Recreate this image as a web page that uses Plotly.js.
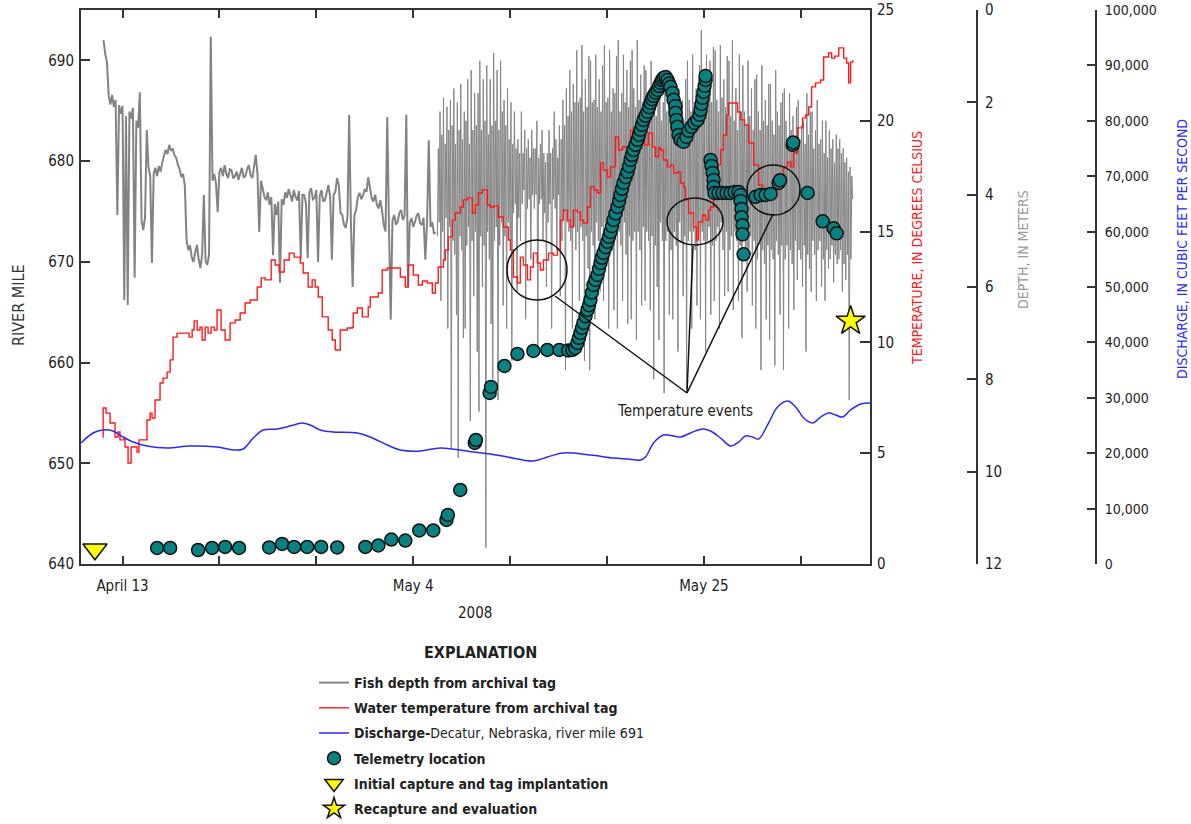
<!DOCTYPE html>
<html>
<head>
<meta charset="utf-8">
<script src="https://cdn.plot.ly/plotly-3.0.1.min.js"></script>
<style>html,body{margin:0;padding:0;background:#fff;}#chart{width:1191px;height:824px;}</style>
</head>
<body>
<div id="chart"></div>
<script>
// ---------------- DATA ----------------
// time values are days since 2008-04-10 00:00
const tickDates = ['2008-04-13','2008-04-20','2008-04-27','2008-05-04','2008-05-11','2008-05-18','2008-05-25','2008-06-01'];
const tickLabels = ['April 13','','','May 4','','','May 25',''];

// Fish depth (m) from archival tag, early segment: starts day 1.625, every 3 hours
const depthEarlyStartDay = 1.625;
const depthEarlyStepHours = 3;
const depthEarly = [
  0.65,0.95,1.13,1.85,2.05,1.84,2.10,1.95,4.44,2.06,2.25,2.08,6.28,2.30,6.39,2.20,2.35,2.12,5.80,2.40,
  2.55,1.78,4.55,4.77,4.50,2.60,3.40,3.60,5.48,3.55,3.42,3.60,3.38,3.50,3.30,3.15,3.03,3.12,2.92,3.05,
  3.00,3.15,3.20,3.35,3.45,3.62,3.55,3.80,4.98,5.20,5.10,5.35,5.46,5.25,5.09,5.40,5.59,5.30,4.01,5.45,
  5.52,5.30,0.58,3.70,3.55,3.75,4.38,3.50,3.42,3.60,3.36,3.55,3.64,3.45,3.47,3.65,3.60,3.50,3.68,3.55,
  3.42,3.62,3.60,3.45,3.36,3.58,3.64,3.40,3.14,3.55,4.81,3.70,3.86,4.05,4.12,3.95,4.22,4.05,5.31,4.20,
  4.44,4.15,5.91,4.10,4.22,3.95,4.07,3.88,4.01,4.15,3.90,4.05,4.12,3.92,5.41,4.00,4.01,4.18,5.37,3.95,
  3.86,4.10,4.07,3.90,5.46,4.02,3.90,4.15,4.12,3.95,3.79,4.05,5.41,4.00,3.94,3.64,3.80,4.40,4.44,4.65,
  4.72,4.50,2.27,4.60,6.00,4.45,4.33,4.05,3.96,4.10,4.01,3.88,3.94,3.62,3.85,4.07,4.15,4.00,4.22,4.30,
  4.12,4.35,4.66,4.80,2.32,4.70,6.71,4.55,4.44,4.65,4.59,4.40,4.33,4.55,4.45,2.27,6.00,4.60,4.51,4.70,
  4.59,4.45,4.40,4.62,4.66,4.50,5.41,4.60,2.82,4.70,4.59,4.85,4.81];
// Fish depth (m), late segment: starts day 25.75, every 1.5 hours (16 readings per day)
const depthLateStartDay = 25.75;
const depthLateStepHours = 1.5;
const depthLate = [
  4.9,3.0,4.6,2.2,6.3,2.7,4.8,1.9,5.4,2.9,4.5,2.1,6.9,2.6,4.7,1.95,
  9.5,2.5,5.0,1.7,5.3,2.9,6.6,2.0,9.7,2.6,4.9,1.6,5.2,2.8,7.1,2.2,
  6.9,2.4,5.1,1.5,4.7,2.9,8.9,1.3,5.0,2.6,6.2,1.8,4.8,2.5,7.4,1.8,
  8.7,1.1,4.9,2.6,6.0,1.5,5.1,2.4,11.65,1.2,4.8,2.7,5.4,1.5,6.8,2.5,
  8.0,0.93,5.0,2.4,4.7,1.3,8.45,2.6,5.1,1.1,4.6,2.2,6.4,1.95,4.9,2.5,
  6.9,1.7,4.6,2.8,5.0,2.0,7.6,2.9,4.4,2.2,4.2,3.0,6.1,2.8,4.5,3.1,
  5.0,2.2,4.2,3.1,3.9,2.6,6.7,3.0,4.3,2.8,4.1,3.2,5.4,2.6,4.0,3.0,
  4.3,3.0,4.0,2.4,7.4,3.2,4.2,2.9,4.1,2.6,5.0,3.1,4.4,3.3,6.0,3.1,
  4.6,2.6,4.2,3.1,6.9,3.0,4.1,2.2,4.3,2.8,5.2,3.2,4.0,2.5,6.2,2.8,
  5.0,1.95,4.4,2.5,7.8,1.7,4.6,2.3,4.8,1.3,5.0,2.2,6.9,1.6,4.7,2.0,
  5.2,0.87,4.8,2.0,6.3,1.9,4.7,0.76,5.0,2.2,7.6,1.5,4.9,2.1,5.6,1.0,
  7.8,1.1,4.8,2.0,5.1,1.95,6.7,0.97,4.6,2.1,5.0,1.5,6.1,2.2,4.7,1.2,
  6.3,0.76,4.6,2.0,5.0,1.9,6.9,0.87,4.9,2.2,5.2,1.7,6.5,1.8,4.8,1.0,
  6.9,0.65,4.8,2.2,5.1,1.8,6.3,0.97,4.6,2.0,5.3,1.3,6.8,2.1,4.9,1.1,
  6.7,0.87,5.0,1.7,4.8,2.1,7.15,0.65,4.8,1.95,5.2,1.4,6.4,2.0,4.7,1.2,
  6.3,1.3,4.8,2.2,5.0,1.9,6.5,1.1,4.9,2.1,8.0,1.7,5.1,2.3,6.0,1.5,
  7.15,1.5,4.6,2.4,5.0,2.0,8.3,1.4,5.0,2.2,4.8,1.95,6.6,2.3,5.2,1.6,
  6.7,1.6,4.8,2.2,5.1,2.1,7.4,1.7,4.6,2.3,5.0,1.95,6.2,2.4,4.9,1.5,
  8.2,1.1,5.0,1.95,4.8,2.2,6.9,0.97,4.8,2.0,5.2,1.7,6.4,2.1,4.9,1.2,
  6.7,0.43,4.8,1.7,5.0,2.1,7.4,0.97,5.0,1.9,4.7,1.1,6.6,2.0,5.1,0.8,
  6.3,0.87,5.0,1.95,4.7,2.2,6.9,0.76,4.6,1.9,5.2,1.5,6.2,2.1,4.8,1.0,
  6.1,1.1,5.2,2.3,4.9,0.65,6.5,2.4,4.8,1.7,5.0,2.6,6.3,0.97,5.1,2.2,
  7.1,1.2,5.0,2.2,5.3,2.5,6.1,1.1,5.2,2.3,4.9,1.7,6.4,2.6,5.0,1.5,
  6.9,1.4,5.4,2.2,5.0,2.6,7.8,1.2,5.2,2.4,5.5,1.95,6.7,2.5,5.1,1.6,
  7.15,1.6,5.2,2.4,5.4,2.7,7.7,1.3,5.0,2.2,5.3,2.5,6.6,2.0,5.1,1.8,
  7.8,1.7,5.4,2.4,5.1,2.8,6.9,1.8,5.2,2.6,5.5,2.3,6.5,2.9,5.0,2.1,
  5.85,1.95,5.2,2.8,5.4,2.5,6.0,2.4,5.1,2.9,7.4,1.8,5.3,2.7,5.6,2.2,
  6.1,2.2,5.0,3.0,5.3,2.6,6.3,1.95,5.2,2.9,5.0,2.8,6.0,2.4,5.4,3.1,
  6.3,2.4,5.2,3.2,5.6,2.6,5.4,3.0,5.1,2.8,5.9,3.3,5.3,2.7,5.5,3.0,
  5.4,2.8,5.2,3.1,6.1,3.0,5.5,3.3,5.85,3.2,5.3,3.5,8.45,3.4,5.4,3.6,
  4.1];

// Water temperature (deg C) from archival tag
const tempDay = [1.59,1.60,1.81,2.10,2.46,2.68,2.82,3.11,3.18,3.40,3.62,4.05,4.19,4.48,4.77,4.99,5.13,5.35,5.71,5.93,
  6.22,6.44,6.65,6.94,7.66,7.81,8.03,8.17,8.39,8.60,8.75,8.97,9.18,9.40,9.62,9.83,10.12,10.41,10.77,11.14,
  11.50,11.86,12.22,12.73,13.02,13.30,13.74,14.03,14.32,14.68,15.04,15.40,15.62,15.84,16.05,16.41,16.70,16.92,17.14,17.43,
  17.86,18.15,18.37,18.73,19.23,19.60,19.67,19.96,20.32,20.61,20.75,20.90,21.48,21.76,22.13,22.85,23.07,23.43,23.64,24.01,
  24.37,24.66,25.02,25.38,25.60,25.81,26.18,26.32,26.54,26.83,27.04,27.40,27.62,27.91,28.27,28.49,28.71,28.99,29.36,29.57,
  29.86,30.15,30.51,30.87,31.02,31.24,31.53,31.74,31.96,32.25,32.47,32.68,32.97,33.19,33.41,33.77,34.13,34.42,34.63,34.85,
  35.14,35.36,35.57,35.86,36.08,36.30,36.59,36.80,37.09,37.31,37.53,37.74,38.03,38.25,38.61,38.83,39.12,39.48,39.70,39.99,
  40.20,40.42,40.71,41.00,41.29,41.50,41.72,41.87,42.08,42.37,42.59,42.81,43.09,43.31,43.53,43.67,43.89,44.25,44.47,44.61,
  44.90,45.12,45.34,45.48,45.70,45.99,46.20,46.42,46.64,46.78,47.14,47.43,47.65,47.94,48.23,48.59,48.95,49.24,49.60,49.96,
  50.40,50.76,51.05,51.27,51.48,51.77,52.13,52.35,52.57,52.78,53.07,53.43,53.65,54.01,54.23,54.45,54.74,55.10,55.31,55.46,
  55.60,55.75];
const tempC = [5.73,7.04,6.81,6.36,5.73,5.96,5.60,5.69,5.28,4.56,5.28,5.05,5.60,5.60,6.50,6.81,6.59,7.40,8.17,8.39,
  8.66,9.21,10.24,10.42,10.42,10.24,10.56,10.97,10.56,10.69,10.11,10.69,10.42,10.69,10.56,11.46,10.56,10.11,10.88,11.01,
  11.33,11.78,11.91,12.50,12.91,12.82,13.72,13.49,13.18,13.72,14.03,13.85,13.85,13.58,13.13,12.50,12.82,12.50,12.05,11.15,
  10.56,10.11,9.66,10.56,10.65,10.69,11.33,11.55,11.15,11.15,11.60,12.05,12.23,13.27,13.36,13.36,12.95,12.50,13.49,13.04,
  12.59,12.77,12.68,12.23,12.68,13.40,13.72,14.17,14.76,15.52,15.84,16.11,16.43,16.52,15.84,16.20,16.74,16.88,16.20,16.11,
  16.16,15.66,15.21,14.62,14.17,12.95,12.68,13.85,13.49,12.82,13.40,14.03,13.58,13.27,13.72,14.03,13.94,14.17,15.52,15.97,
  15.52,15.21,15.97,15.88,15.52,15.39,16.11,17.01,16.88,16.74,18.10,17.78,17.46,17.92,19.27,18.68,18.82,18.55,19.58,19.45,
  19.13,19.45,18.91,19.45,18.82,18.37,18.77,18.68,18.23,17.92,18.01,17.64,17.69,17.19,17.01,16.43,15.84,15.21,14.62,15.43,
  15.75,15.52,15.97,16.11,17.55,18.01,18.68,19.36,20.26,20.80,20.80,20.40,20.04,19.81,19.00,18.01,17.10,16.74,16.56,16.88,
  17.24,17.92,18.14,17.92,18.55,19.68,20.13,20.26,20.62,21.53,21.71,21.84,22.88,23.06,22.83,22.92,23.29,22.83,22.61,21.71,
  22.65,22.74];

// Discharge (cubic feet per second), Decatur, Nebraska
const dischDay = [0,0.87,1.59,2.31,3.04,3.76,4.77,6.22,7.88,9.83,10.99,11.71,12.44,13.16,14.17,15.11,15.98,16.56,17.28,18.22,
  19.96,20.90,22.13,23.07,24.51,25.96,28.34,29.57,30.80,32.68,33.69,34.85,36.80,38.47,39.48,40.42,40.78,41.36,42.08,42.81,
  43.31,44.03,44.90,45.48,46.20,46.93,47.51,48.01,48.52,48.95,49.67,50.32,51.05,51.63,52.21,52.86,53.43,54.01,54.52,55.03,
  55.60,56.33,57.05];
const dischCfs = [21840,23650,24190,24010,22920,22020,21300,20940,21300,21120,20580,20760,22740,24190,24370,24910,25450,25090,24190,23830,
  23650,22920,21480,20580,20400,20940,20220,19860,19310,18590,19310,20040,19670,19130,18950,18770,19310,21840,23280,23100,
  22920,23650,24370,24010,22740,21300,22020,23100,22920,22560,25450,28340,29420,28340,26350,25450,26530,27260,26890,26530,
  27800,28880,29060];

// Telemetry locations (river mile)
const teleDay = [5.50,6.44,8.46,9.47,10.41,11.42,13.59,14.53,15.40,16.34,17.35,18.51,20.54,21.48,22.42,23.43,24.44,25.45,26.40,26.50,
  27.40,28.45,28.53,29.52,29.62,30.59,31.53,32.68,33.69,34.56,35.20,35.50,
  35.70,35.86,35.97,36.08,36.19,36.30,36.45,36.59,36.70,36.80,36.91,37.02,37.16,37.31,37.42,37.53,37.63,37.74,37.89,38.03,
  38.14,38.25,38.36,38.47,38.62,38.76,38.87,38.97,39.08,39.19,39.34,39.48,39.59,39.70,39.80,39.91,40.06,40.20,40.31,40.42,
  40.53,40.64,40.78,40.93,41.04,41.14,41.25,41.36,41.50,41.65,41.76,41.87,41.97,42.08,42.23,
  42.37,42.48,42.59,42.73,42.81,42.95,42.95,43.02,43.09,43.17,43.31,43.53,43.74,43.89,44.11,44.32,44.54,44.69,44.76,44.83,
  44.90,44.98,45.05,45.12,45.12,
  45.48,45.55,45.63,45.70,45.70,45.77,46.06,46.35,46.64,46.93,47.22,47.51,47.65,47.65,47.72,47.72,47.79,47.79,47.87,48.73,
  49.10,49.46,49.82,50.40,50.50,51.41,51.45,52.49,53.58,54.37,54.59];
const teleRM = [641.59,641.59,641.39,641.59,641.69,641.59,641.64,641.99,641.69,641.69,641.69,641.64,641.69,641.84,642.43,642.33,643.33,643.33,644.37,644.87,
  647.35,652.02,652.31,656.98,657.58,659.66,660.85,661.15,661.25,661.25,661.20,661.25,
  661.45,661.95,662.45,662.94,663.44,663.93,664.60,665.22,665.70,666.22,666.95,667.71,668.20,668.70,669.30,669.89,670.40,670.88,671.45,671.98,
  672.48,672.97,673.55,674.16,674.80,675.45,676.05,676.64,677.25,677.84,678.40,678.93,679.50,680.12,680.60,681.11,681.60,682.11,682.60,683.10,
  683.60,684.09,684.50,684.89,685.35,685.78,686.15,686.48,686.80,687.07,687.45,687.77,688.05,688.26,688.36,
  688.06,687.70,687.37,686.77,686.08,685.48,684.79,684.09,683.40,682.60,682.11,681.91,682.41,683.00,683.40,683.79,684.09,684.59,685.08,685.68,
  686.28,686.87,687.47,688.06,688.46,
  680.12,679.52,678.83,678.13,677.44,676.84,676.84,676.84,676.84,676.84,676.94,676.94,676.64,676.05,675.25,674.42,673.63,672.73,670.75,676.45,
  676.64,676.64,676.74,677.84,678.10,681.61,681.85,676.84,674.02,673.33,672.83];

const captureDay = [1.01];
const captureRM = [641.46];
const recaptureDay = [55.60];
const recaptureRM = [664.13];

// ---------------- HELPERS ----------------
const BASE = Date.UTC(2008, 3, 10);
const DAY_MS = 864e5;
const toMs = t => BASE + t * DAY_MS;
const sampleTimes = (startDay, stepHours, n) => {
  const out = [];
  for (let i = 0; i < n; i++) out.push(toMs(startDay + i * stepHours / 24));
  return out;
};

const FONT = '"Liberation Sans Narrow", "Arial Narrow", "DejaVu Sans Condensed", sans-serif';
const AX = '#333';

const traces = [
  {x: sampleTimes(depthEarlyStartDay, depthEarlyStepHours, depthEarly.length), y: depthEarly, yaxis: 'y', type: 'scatter', mode: 'lines',
   line: {color: '#838383', width: 2, simplify: false}, name: '<b>Fish depth from archival tag</b>', legendgroup: 'g1', legendrank: 1, hoverinfo: 'skip'},
  {x: sampleTimes(depthLateStartDay, depthLateStepHours, depthLate.length), y: depthLate, yaxis: 'y', type: 'scatter', mode: 'lines',
   line: {color: '#858585', width: 1, simplify: false}, name: 'depth2', showlegend: false, legendgroup: 'g1', hoverinfo: 'skip'},
  {x: tempDay.map(toMs), y: tempC, yaxis: 'y2', type: 'scatter', mode: 'lines', line: {color: '#ff1a1a', width: 1.4, shape: 'hv'},
   name: '<b>Water temperature from archival tag</b>', legendgroup: 'g2', legendrank: 2},
  {x: dischDay.map(toMs), y: dischCfs, yaxis: 'y3', type: 'scatter', mode: 'lines', line: {color: '#2a2aff', width: 1.5, shape: 'spline', smoothing: 1},
   name: '<b>Discharge-</b>Decatur, Nebraska, river mile 691', legendgroup: 'g3', legendrank: 3},
  {x: teleDay.map(toMs), y: teleRM, yaxis: 'y4', type: 'scatter', mode: 'markers',
   marker: {size: 13, color: '#0a8080', line: {color: '#111', width: 1.5}}, name: '<b>Telemetry location</b>', legendgroup: 'g4', legendrank: 4},
  {x: captureDay.map(toMs), y: captureRM, yaxis: 'y4', type: 'scatter', mode: 'markers',
   marker: {size: 21, symbol: 'triangle-down', color: '#ffff00', line: {color: '#111', width: 1.5}}, name: '<b>Initial capture and tag implantation</b>', legendgroup: 'g5', legendrank: 5},
  {x: recaptureDay.map(toMs), y: recaptureRM, yaxis: 'y4', type: 'scatter', mode: 'markers',
   marker: {size: 22, symbol: 'star', color: '#ffff00', line: {color: '#111', width: 1.5}}, name: '<b>Recapture and evaluation</b>', legendgroup: 'g6', legendrank: 6}
];

const tickFont = {family: FONT, size: 15, color: '#222'};
const xDom = 789 / 1015;

const layout = {
  width: 1191, height: 824,
  margin: {l: 81, r: 95, t: 10, b: 260, autoexpand: false},
  paper_bgcolor: '#fff', plot_bgcolor: 'rgba(0,0,0,0)',
  font: {family: FONT, size: 14, color: '#222'},
  showlegend: true,
  legend: {x: (314 - 81) / 1015, xanchor: 'left', y: (564 - 667) / 554, yanchor: 'top',
           font: {family: FONT, size: 14, color: '#222'}, bgcolor: 'rgba(0,0,0,0)', tracegroupgap: 4, traceorder: 'grouped'},
  xaxis: {type: 'date', domain: [0, xDom], anchor: 'y', range: ['2008-04-10', '2008-06-06'],
          tickmode: 'array', tickvals: tickDates, ticktext: tickLabels, ticks: 'inside', ticklen: 8, tickwidth: 2, tickcolor: AX,
          showline: true, linecolor: AX, linewidth: 2, mirror: 'ticks', showgrid: false, zeroline: false,
          tickfont: tickFont, ticklabelstandoff: 7},
  // base: depth axis
  yaxis: {domain: [0, 1], range: [12, 0], anchor: 'free', position: (977 - 81) / 1015, side: 'right',
          tickvals: [0, 2, 4, 6, 8, 10, 12], ticks: 'inside', ticklen: 9, tickwidth: 2, tickcolor: AX,
          showline: true, linecolor: AX, linewidth: 2, showgrid: false, zeroline: false, tickfont: tickFont, ticklabelstandoff: 4},
  yaxis2: {overlaying: 'y', anchor: 'x', side: 'right', range: [0, 25], tickvals: [0, 5, 10, 15, 20, 25],
           ticks: 'inside', ticklen: 10, tickwidth: 2, tickcolor: AX, showline: true, linecolor: AX, linewidth: 2,
           showgrid: false, zeroline: false, tickfont: tickFont, ticklabelstandoff: 2},
  yaxis3: {overlaying: 'y', anchor: 'free', position: 1, side: 'right', range: [0, 100000],
           tickvals: [0, 10000, 20000, 30000, 40000, 50000, 60000, 70000, 80000, 90000, 100000], tickformat: ',d',
           ticks: 'inside', ticklen: 8, tickwidth: 2, tickcolor: AX, showline: true, linecolor: AX, linewidth: 2,
           showgrid: false, zeroline: false, tickfont: {family: FONT, size: 14, color: '#222'}, ticklabelstandoff: 5},
  yaxis4: {overlaying: 'y', anchor: 'x', side: 'left', range: [640, 695], tickvals: [640, 650, 660, 670, 680, 690],
           ticks: 'inside', ticklen: 9, tickwidth: 2, tickcolor: AX, showline: true, linecolor: AX, linewidth: 2,
           showgrid: false, zeroline: false, tickfont: tickFont, ticklabelstandoff: 2},
  shapes: [
    {type: 'circle', xref: 'paper', yref: 'paper', x0: (507 - 81) / 1015, x1: (567 - 81) / 1015, y0: (564 - 300) / 554, y1: (564 - 240) / 554, line: {color: '#111', width: 1.5}},
    {type: 'circle', xref: 'paper', yref: 'paper', x0: (667 - 81) / 1015, x1: (723 - 81) / 1015, y0: (564 - 245) / 554, y1: (564 - 198) / 554, line: {color: '#111', width: 1.5}},
    {type: 'circle', xref: 'paper', yref: 'paper', x0: (747 - 81) / 1015, x1: (800 - 81) / 1015, y0: (564 - 215) / 554, y1: (564 - 165) / 554, line: {color: '#111', width: 1.5}},
    {type: 'line', xref: 'paper', yref: 'paper', x0: (555 - 81) / 1015, y0: (564 - 296) / 554, x1: (687 - 81) / 1015, y1: (564 - 393) / 554, line: {color: '#111', width: 1.5}},
    {type: 'line', xref: 'paper', yref: 'paper', x0: (693 - 81) / 1015, y0: (564 - 246) / 554, x1: (687 - 81) / 1015, y1: (564 - 393) / 554, line: {color: '#111', width: 1.5}},
    {type: 'line', xref: 'paper', yref: 'paper', x0: (773 - 81) / 1015, y0: (564 - 214) / 554, x1: (687 - 81) / 1015, y1: (564 - 393) / 554, line: {color: '#111', width: 1.5}}
  ],
  annotations: [
    {text: 'RIVER MILE', xref: 'paper', yref: 'paper', x: (18 - 81) / 1015, y: (564 - 305) / 554, textangle: -90, showarrow: false,
     font: {family: FONT, size: 16, color: '#333'}, xanchor: 'center', yanchor: 'middle'},
    {text: 'TEMPERATURE, IN DEGREES CELSIUS', xref: 'paper', yref: 'paper', x: (917 - 81) / 1015, y: (564 - 248) / 554, textangle: -90, showarrow: false,
     font: {family: FONT, size: 14, color: '#ff1a1a'}, xanchor: 'center', yanchor: 'middle'},
    {text: 'DEPTH, IN METERS', xref: 'paper', yref: 'paper', x: (1023 - 81) / 1015, y: (564 - 250) / 554, textangle: -90, showarrow: false,
     font: {family: FONT, size: 14, color: '#999'}, xanchor: 'center', yanchor: 'middle'},
    {text: 'DISCHARGE, IN CUBIC FEET PER SECOND', xref: 'paper', yref: 'paper', x: (1182 - 81) / 1015, y: (564 - 249) / 554, textangle: -90, showarrow: false,
     font: {family: FONT, size: 14, color: '#2a2aff'}, xanchor: 'center', yanchor: 'middle'},
    {text: 'Temperature events', xref: 'paper', yref: 'paper', x: (685 - 81) / 1015, y: (564 - 411) / 554, showarrow: false,
     font: {family: FONT, size: 15, color: '#222'}, xanchor: 'center', yanchor: 'middle'},
    {text: '2008', xref: 'paper', yref: 'paper', x: (475 - 81) / 1015, y: (564 - 613) / 554, showarrow: false,
     font: {family: FONT, size: 15, color: '#222'}, xanchor: 'center', yanchor: 'middle'},
    {text: '<b>EXPLANATION</b>', xref: 'paper', yref: 'paper', x: (480 - 81) / 1015, y: (564 - 652) / 554, showarrow: false,
     font: {family: FONT, size: 16, color: '#222'}, xanchor: 'center', yanchor: 'middle'}
  ]
};

Plotly.newPlot('chart', traces, layout, {displayModeBar: false, staticPlot: true});
</script>
</body>
</html>
